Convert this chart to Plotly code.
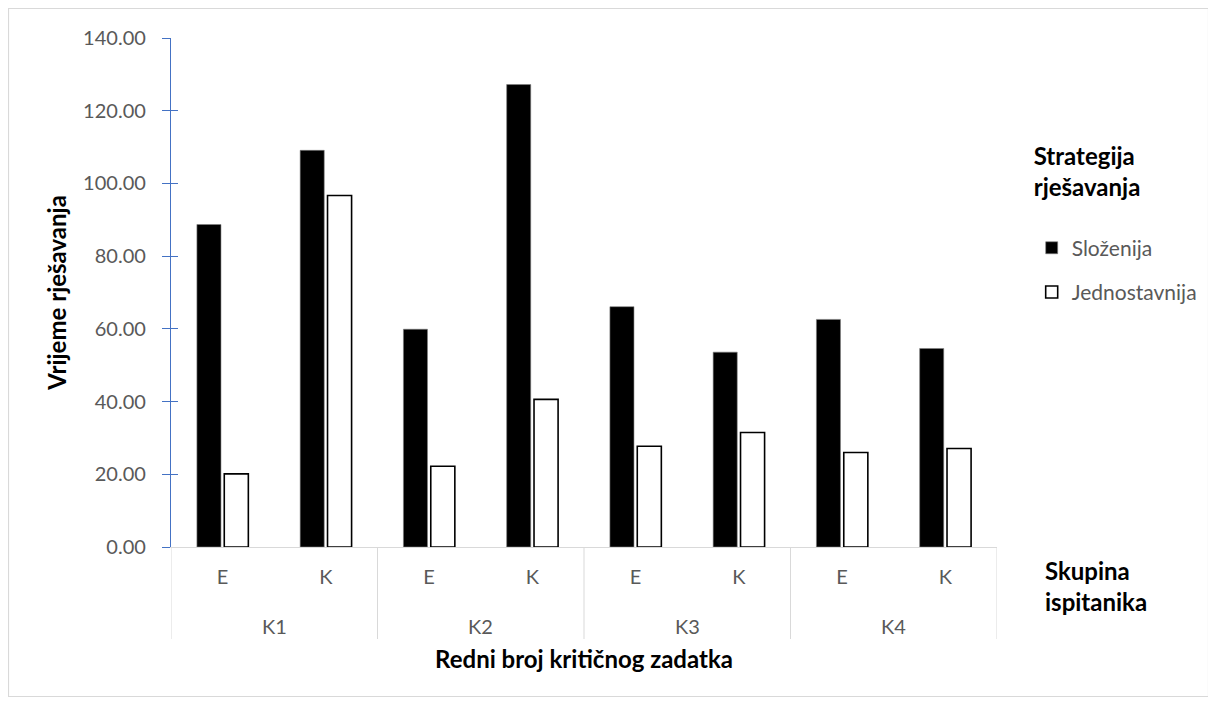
import plotly.graph_objects as go

tasks = ["K1", "K1", "K2", "K2", "K3", "K3", "K4", "K4"]
groups = ["E", "K", "E", "K", "E", "K", "E", "K"]
slozenija = [88.7, 109.1, 59.9, 127.2, 66.1, 53.6, 62.6, 54.6]
jednostavnija = [20.1, 96.7, 22.2, 40.6, 27.7, 31.5, 26.0, 27.1]

FONT = "Lato"
GRAY = "#595959"
BLUE = "#4472c4"
LIGHT = "#d9d9d9"
TSIZE = 24

W, H = 1201, 689
ML, MR, MT, MB = 163, 212, 30, 150
PW, PH = W - ML - MR, H - MT - MB

cats = [f"{t} {g}" for t, g in zip(tasks, groups)]

fig = go.Figure()
fig.add_trace(go.Bar(
    x=cats, y=slozenija, name="Složenija",
    marker=dict(color="black", line=dict(color="#7f7f7f", width=0.6)),
    legendgroup="a",
))
fig.add_trace(go.Bar(
    x=cats, y=jednostavnija, name="Jednostavnija",
    marker=dict(color="white", line=dict(color="black", width=1.6)),
    legendgroup="b",
))

fig.update_layout(
    width=W, height=H,
    margin=dict(l=ML, r=MR, t=MT, b=MB, autoexpand=False),
    paper_bgcolor="white", plot_bgcolor="white",
    font=dict(family=FONT, size=20, color=GRAY),
    barmode="group", bargap=0.47, bargroupgap=0.12,
    showlegend=True,
    legend=dict(
        x=1.042, y=1 - (126 - MT) / PH, xanchor="left", yanchor="top",
        title=dict(text="<b>Strategija<br>rješavanja</b><br> ",
                   font=dict(family=FONT, size=TSIZE, color="black")),
        font=dict(family=FONT, size=21, color=GRAY),
        tracegroupgap=14,
        bgcolor="rgba(0,0,0,0)",
    ),
    xaxis=dict(
        type="category", categoryorder="array", categoryarray=cats,
        tickmode="array", tickvals=cats, ticktext=groups,
        range=[-0.5, len(cats) - 0.5],
        showline=True, linecolor=LIGHT, linewidth=1,
        ticks="", showgrid=False, ticklabelstandoff=12,
        tickfont=dict(family=FONT, size=20, color=GRAY),
        title=dict(text="<b>Redni broj kritičnog zadatka</b>",
                   font=dict(family=FONT, size=TSIZE, color="black"), standoff=64),
    ),
    yaxis=dict(
        range=[0, 140], dtick=20, tickformat=".2f",
        showline=True, linecolor=BLUE, linewidth=1.3,
        ticks="outside", ticklen=8, tickcolor=BLUE, tickwidth=1.3,
        showgrid=False, zeroline=False, ticklabelstandoff=12,
        tickfont=dict(family=FONT, size=20, color=GRAY),
        title=dict(text="<b>Vrijeme rješavanja</b>",
                   font=dict(family=FONT, size=TSIZE, color="black"), standoff=9),
    ),
    yaxis2=dict(
        overlaying="y", side="left", range=[0, 140], dtick=20,
        ticks="inside", ticklen=7, tickcolor=BLUE, tickwidth=1.3,
        showticklabels=False, showgrid=False, zeroline=False, showline=False,
    ),
)

fig.add_trace(go.Scatter(x=cats, y=[None] * len(cats), yaxis="y2",
                         showlegend=False, hoverinfo="skip"))

# group labels and dividers of the two-level category axis
task_names = list(dict.fromkeys(tasks))
div_len = 92 / PH
start = 0
for name in task_names:
    n = tasks.count(name)
    fig.add_annotation(
        text=name, xref="x", yref="paper", x=start + (n - 1) / 2, y=-79 / PH,
        xanchor="center", yanchor="middle", showarrow=False,
        font=dict(family=FONT, size=20, color=GRAY),
    )
    fig.add_shape(type="line", xref="x", yref="paper", x0=start - 0.5, x1=start - 0.5,
                  y0=0, y1=-div_len, line=dict(color=LIGHT, width=1))
    start += n
fig.add_shape(type="line", xref="x", yref="paper", x0=start - 0.5, x1=start - 0.5,
              y0=0, y1=-div_len, line=dict(color=LIGHT, width=1))

fig.add_annotation(
    text="<b>Skupina<br>ispitanika</b>", xref="paper", yref="paper",
    x=(1035 - ML) / PW, y=-(578 - (MT + PH)) / PH, xanchor="left", yanchor="middle",
    align="left", showarrow=False,
    font=dict(family=FONT, size=TSIZE, color="black"),
)

# outer chart border
fig.add_shape(type="rect", xref="paper", yref="paper",
              x0=-(ML - 0.5) / PW, x1=1 + (MR - 0.5) / PW,
              y0=-(MB - 0.5) / PH, y1=1 + (MT - 0.5) / PH,
              line=dict(color=LIGHT, width=1.2), layer="below")

fig.write_html("out.html")
